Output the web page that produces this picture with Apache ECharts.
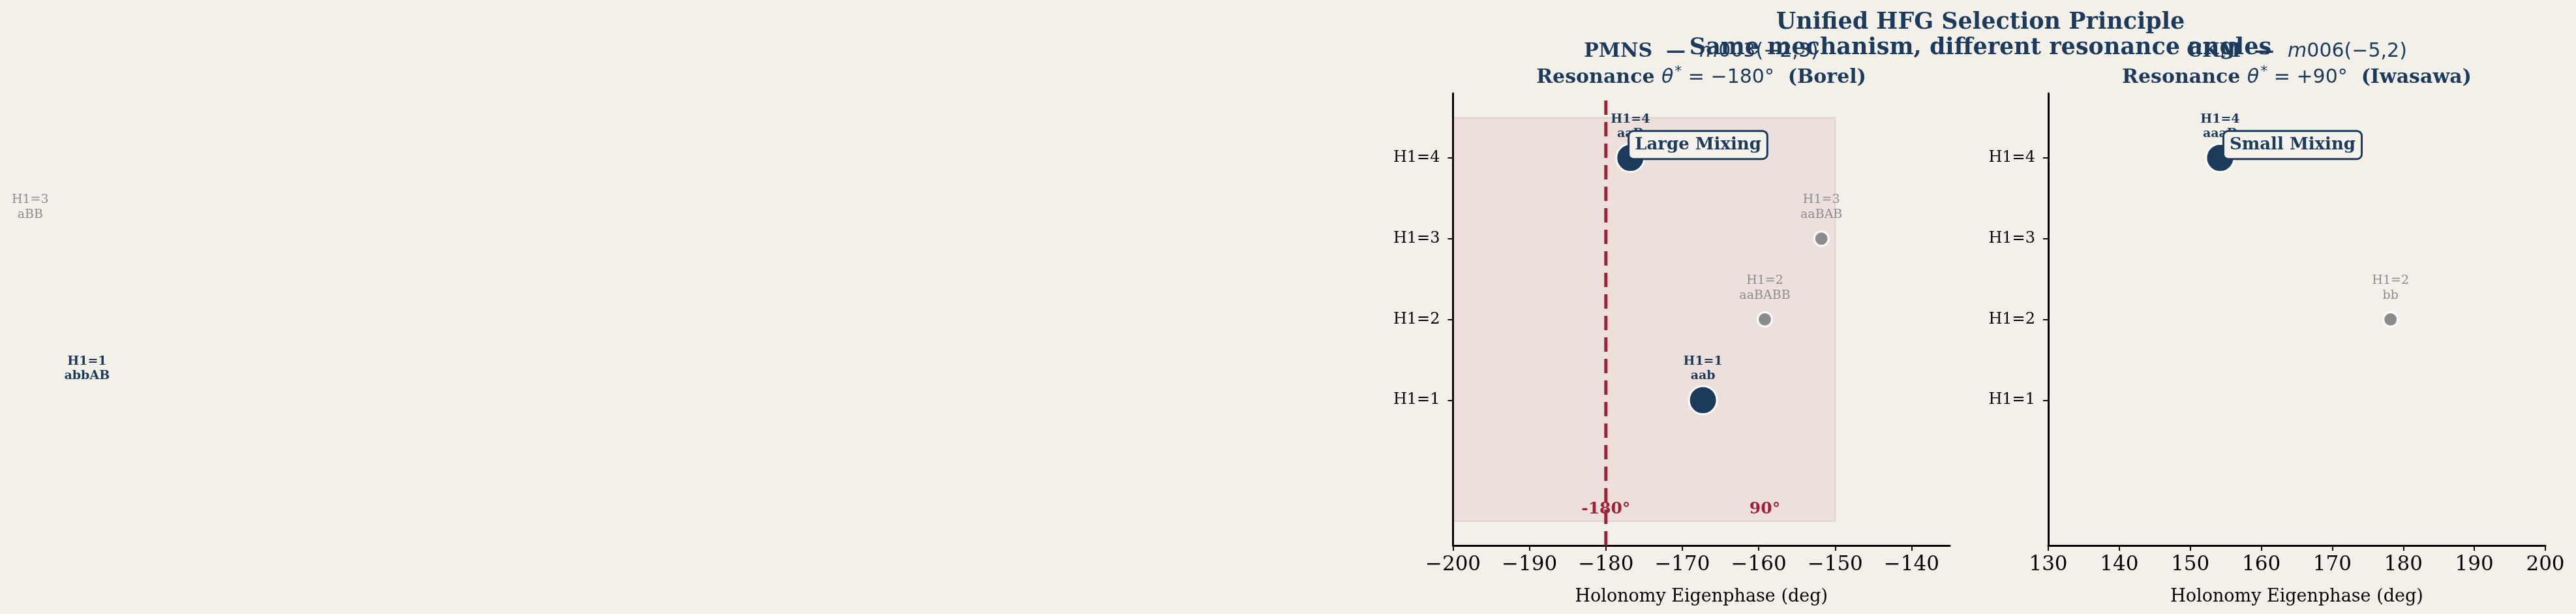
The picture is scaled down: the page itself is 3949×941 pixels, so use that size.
<!DOCTYPE html>
<html><head><meta charset="utf-8">
<script src="https://cdn.jsdelivr.net/npm/echarts@6/dist/echarts.min.js"></script>
<style>html,body{margin:0;padding:0;background:#f3f0ea}#c{width:3949px;height:941px}</style>
</head><body><div id="c"></div><script>
// ---- data ----
const h1Levels = [1, 2, 3, 4];
const yTickLabels = ['H1=1', 'H1=2', 'H1=3', 'H1=4'];
// PMNS panel (m003(-2,3))
const pmnsPhase = [-167.3, -159.2, -151.8, -176.8];
const pmnsWords = ['aab', 'aaBABB', 'aaBAB', 'aaB'];
const pmnsSelected = [true, false, false, true];
// CKM panel (m006(-5,2))
const ckmPhase = [-146.2, 178.2, -154.2, 154.2];
const ckmWords = ['abbAB', 'bb', 'aBB', 'aaaB'];
const ckmSelected = [true, false, false, true];
// axes
const pmnsXTicks = [-200, -190, -180, -170, -160, -150, -140];
const pmnsXRange = [-200, -135];
const ckmXTicks = [130, 140, 150, 160, 170, 180, 190, 200];
const ckmXRange = [130, 200];
const yRange = [-0.8, 4.8];
// resonance markers (PMNS panel)
const resonanceAngle = -180;
const resonanceLineY = [-0.8, 4.8];
const bandX = [-200, -150];
const bandY = [-0.5, 4.5];
const bandLabelX = [-180, -159.2];
const bandLabelY = [-0.35, -0.35];
const bandLabelText = ['-180°', '90°'];
// mixing annotations
const mixText = ['Large Mixing', 'Small Mixing'];
const mixX = [-176.9, 154.8];
const mixY = [4.16, 4.16];

// ---- style ----
const NAVY = '#1b3a5c', GRAY = '#8c8c8c', RED = '#a21f36', BG = '#f3f0ea';
const SERIF = 'DejaVu Serif', SANS = 'DejaVu Sans';

const chart = echarts.init(document.getElementById('c'), null, {renderer: 'canvas'});

function xAxis(idx, range, ticks) {
  return {
    type: 'value', gridIndex: idx, min: range[0], max: range[1],
    axisLine: {show: true, onZero: false, lineStyle: {color: '#000', width: 3}},
    axisTick: {show: true, length: 8, customValues: ticks, lineStyle: {color: '#000', width: 2}},
    axisLabel: {customValues: ticks, fontFamily: SERIF, fontSize: 31, color: '#000', margin: 14,
      formatter: v => (v < 0 ? '\u2212' + Math.abs(v) : '' + v)},
    splitLine: {show: false},
    name: 'Holonomy Eigenphase (deg)', nameLocation: 'middle', nameGap: 65,
    nameTextStyle: {fontFamily: SERIF, fontSize: 27, color: '#000'}
  };
}
function yAxis(idx) {
  return {
    type: 'value', gridIndex: idx, min: yRange[0], max: yRange[1],
    axisLine: {show: true, onZero: false, lineStyle: {color: '#000', width: 3}},
    axisTick: {show: true, length: 8, customValues: h1Levels, lineStyle: {color: '#000', width: 2}},
    axisLabel: {customValues: h1Levels, fontFamily: SERIF, fontSize: 24, color: '#000', margin: 20,
      formatter: v => yTickLabels[h1Levels.indexOf(v)]},
    splitLine: {show: false}
  };
}

function pointSeries(idx, phase, selected, extra) {
  return Object.assign({
    type: 'scatter', xAxisIndex: idx, yAxisIndex: idx, clip: true, z: 3, silent: true,
    itemStyle: {opacity: 1},
    data: phase.map((x, i) => ({
      value: [x, h1Levels[i]],
      symbolSize: selected[i] ? 43 : 22,
      itemStyle: {color: selected[i] ? NAVY : GRAY, borderColor: '#ffffff', borderWidth: 3, opacity: 1}
    }))
  }, extra || {});
}
function labelSeries(idx, phase, words, selected) {
  return {
    type: 'scatter', xAxisIndex: idx, yAxisIndex: idx, clip: false, z: 4, silent: true, symbolSize: 0,
    itemStyle: {opacity: 1},
    data: phase.map((x, i) => ({
      value: [x, h1Levels[i]],
      label: {
        show: true, position: 'inside', offset: [0, -48], align: 'center', verticalAlign: 'middle',
        formatter: 'H1=' + h1Levels[i] + '\n' + words[i], opacity: 1,
        fontFamily: SERIF, fontSize: 19, lineHeight: 22.5,
        fontWeight: selected[i] ? 'bold' : 'normal', color: selected[i] ? NAVY : GRAY
      }
    }))
  };
}
function mixSeries(idx, k) {
  return {
    type: 'scatter', xAxisIndex: idx, yAxisIndex: idx, clip: false, z: 10, silent: true, symbolSize: 0,
    itemStyle: {opacity: 1},
    data: [{value: [mixX[k], mixY[k]]}],
    label: {
      show: true, position: 'right', distance: 0, formatter: mixText[k], opacity: 1,
      fontFamily: SERIF, fontSize: 26, fontWeight: 'bold', color: NAVY,
      backgroundColor: '#f5f2ec', borderColor: NAVY, borderWidth: 3, borderRadius: 6,
      padding: [8, 8, 6, 8]
    }
  };
}

const richTitle = {
  b: {fontFamily: SERIF, fontWeight: 'bold', fontSize: 30, color: NAVY, lineHeight: 40},
  s: {fontFamily: SANS, fontWeight: 'normal', fontSize: 30, color: NAVY, lineHeight: 40},
  i: {fontFamily: SANS, fontWeight: 'normal', fontStyle: 'italic', fontSize: 30, color: NAVY, lineHeight: 40},
  sup: {fontFamily: SANS, fontWeight: 'normal', fontSize: 22, color: NAVY, lineHeight: 40, padding: [0, 0, 18, 2]}
};

const option = {
  backgroundColor: BG,
  animation: false,
  title: [
    {text: 'Unified HFG Selection Principle\nSame mechanism, different resonance angles',
     left: 3036, top: 15, textAlign: 'center', padding: 0, z: 20,
     textStyle: {fontFamily: SERIF, fontWeight: 'bold', fontSize: 35, color: NAVY, lineHeight: 39}},
    {text: '{b|PMNS  \u2014  }{i|m}{s|003(\u22122,3)}\n{b|Resonance }{i|\u03b8}{sup|*}{s| = \u2212180\u00b0}{b|  (Borel)}',
     left: 2608, top: 59, textAlign: 'center', padding: 0,
     textStyle: {rich: richTitle, fontSize: 30, lineHeight: 40}},
    {text: '{b|CKM  \u2014  }{i|m}{s|006(\u22125,2)}\n{b|Resonance }{i|\u03b8}{sup|*}{s| = +90\u00b0}{b|  (Iwasawa)}',
     left: 3521, top: 59, textAlign: 'center', padding: 0,
     textStyle: {rich: richTitle, fontSize: 30, lineHeight: 40}}
  ],
  grid: [
    {left: 2227.5, right: 960, top: 143, bottom: 105, containLabel: false},
    {left: 3140, right: 47, top: 143, bottom: 105, containLabel: false}
  ],
  xAxis: [xAxis(0, pmnsXRange, pmnsXTicks), xAxis(1, ckmXRange, ckmXTicks)],
  yAxis: [yAxis(0), yAxis(1)],
  series: [
    pointSeries(0, pmnsPhase, pmnsSelected, {
      markArea: {silent: true, itemStyle: {color: 'rgba(162,31,54,0.08)', borderColor: 'rgba(162,31,54,0.10)', borderWidth: 2, opacity: 1},
        data: [[{coord: [bandX[0], bandY[0]]}, {coord: [bandX[1], bandY[1]]}]]}
    }),
    {
      type: 'line', xAxisIndex: 0, yAxisIndex: 0, z: 2, silent: true, showSymbol: false, symbol: 'none', clip: false,
      data: resonanceLineY.map(y => [resonanceAngle, y]),
      lineStyle: {color: RED, width: 5, type: [22, 11], opacity: 1}
    },
    {
      type: 'scatter', xAxisIndex: 0, yAxisIndex: 0, clip: false, z: 4, silent: true, symbolSize: 0,
      itemStyle: {opacity: 1},
      data: bandLabelX.map((x, i) => ({value: [x, bandLabelY[i]], label: {formatter: bandLabelText[i]}})),
      label: {show: true, position: 'inside', fontFamily: SERIF, fontSize: 25, fontWeight: 'bold', color: RED, opacity: 1}
    },
    labelSeries(0, pmnsPhase, pmnsWords, pmnsSelected),
    mixSeries(0, 0),
    pointSeries(1, ckmPhase, ckmSelected),
    labelSeries(1, ckmPhase, ckmWords, ckmSelected),
    mixSeries(1, 1)
  ]
};
chart.setOption(option);
</script></body></html>
